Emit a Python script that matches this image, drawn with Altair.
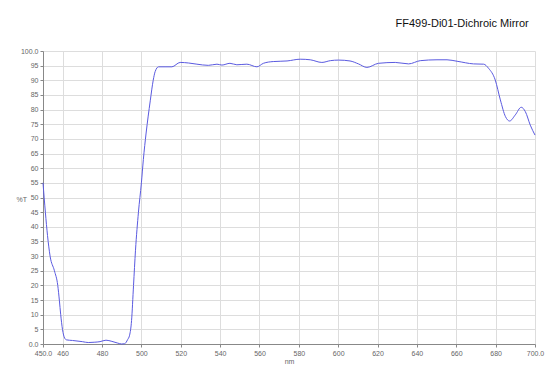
import altair as alt
import pandas as pd

wavelength = [450, 451.2, 452.3, 453.6, 455.8, 457.5, 458.3, 459.0, 459.9, 461, 462, 465, 470, 473, 476, 479, 482,
              485, 488, 490, 491.5, 493, 494, 495, 496, 497, 498.5, 500, 501, 502.4, 504.5, 506, 507, 508.7,
              512, 515.5, 519.7, 524, 528.2, 534, 538.4, 540.9, 545, 548.5, 553.6, 558.7, 562, 567, 574,
              580.7, 585.8, 591.7, 596, 600.2, 606, 610.3, 614.6, 620.5, 629, 635.8, 641.7, 650.2, 655.3,
              660.4, 668.8, 673.9, 676.4, 679.8, 682.4, 685, 687.1, 690, 693, 695.1, 697.6, 700]
transmission = [55, 45, 37, 30, 25, 20, 15, 10, 5, 2, 1.4, 1.2, 0.8, 0.5, 0.6, 0.8, 1.3,
                0.9, 0.3, 0.0, 0.1, 1.5, 3, 8, 20, 32, 45, 55, 63, 72, 83, 90, 93, 94.6,
                94.6, 94.6, 96.1, 95.9, 95.5, 95.1, 95.5, 95.2, 95.8, 95.3, 95.5, 94.6, 95.8, 96.4, 96.6,
                97.2, 97.0, 96.1, 96.7, 96.9, 96.6, 95.6, 94.4, 95.8, 96.1, 95.6, 96.7, 97.0, 97.0,
                96.5, 95.6, 95.5, 94.1, 90.1, 83.3, 77.6, 76.1, 78.2, 80.8, 79.3, 74.7, 71.3]

x_ticks = [450, 460, 480, 500, 520, 540, 560, 580, 600, 620, 640, 660, 680, 700]
y_ticks = list(range(0, 101, 5))
title_text = "FF499-Di01-Dichroic Mirror"

df = pd.DataFrame({"nm": wavelength, "T": transmission})

line = alt.Chart(df).mark_line(color="#5a5ae0", strokeWidth=1, interpolate="monotone").encode(
    x=alt.X("nm:Q", scale=alt.Scale(domain=[450, 700], nice=False, zero=False),
            axis=alt.Axis(values=x_ticks, title="nm", labelOverlap=False, labelFlush=False,
                          labelExpr="datum.value == 450 ? '450.0' : datum.value == 700 ? '700.0' : datum.label",
                          titlePadding=1)),
    y=alt.Y("T:Q", scale=alt.Scale(domain=[0, 100], nice=False),
            axis=alt.Axis(values=y_ticks, title="%T", titleAngle=0, titleX=-27, titleY=151,
                          titleAlign="left", labelOverlap=False, labelFlush=False,
                          labelExpr="datum.value == 100 ? '100.0' : datum.value == 0 ? '0.0' : datum.label")),
)

chart = line.properties(
    width=492, height=293,
    title=alt.TitleParams(title_text, anchor="end", fontSize=11, font="Liberation Sans",
                          fontWeight="normal", color="#111", offset=18, dx=-15),
    autosize=alt.AutoSizeParams(type="none"),
    padding={"left": 43, "top": 51, "right": 25, "bottom": 42},
).configure_view(stroke=None).configure_axis(
    labelFont="Liberation Sans", labelFontSize=7, labelColor="#666",
    titleFont="Liberation Sans", titleFontSize=7, titleColor="#666", titleFontWeight="normal",
    domainColor="#888", tickColor="#888", tickSize=3, gridColor="#dddddd", gridWidth=1,
    labelPadding=2,
)

chart.save("out.html", embed_options={"renderer": "svg", "actions": False})
